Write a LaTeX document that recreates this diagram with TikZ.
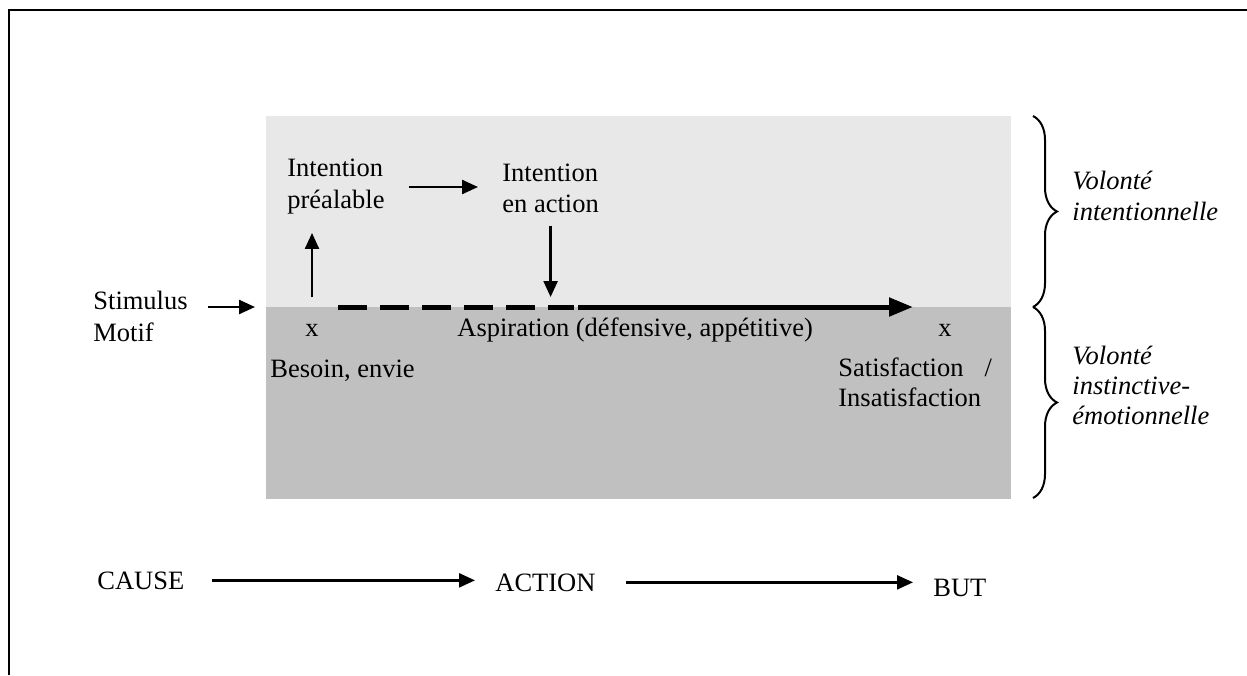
\documentclass[tikz,border=0pt]{standalone}
\usepackage{fontspec}
\setmainfont{Liberation Serif}
\usetikzlibrary{arrows.meta,decorations.pathreplacing}
\definecolor{upperfill}{RGB}{232,232,232}
\definecolor{lowerfill}{RGB}{192,192,192}

\begin{document}
\begin{tikzpicture}[
  x=0.5pt, y=-0.5pt,
  lbl/.style={inner sep=0pt, align=left, font=\fontsize{13.25}{15.5}\selectfont},
  arr/.style={line width=1.2pt, -{Triangle[length=8pt,width=7pt]}},
  bigarr/.style={line width=2.5pt, -{Triangle[length=12pt,width=9pt]}},
  dashline/.style={line width=2.5pt, dash pattern=on 14.5pt off 6.5pt},
  brc/.style={line width=1pt, decorate, decoration={brace, amplitude=12pt}}
]
  \useasboundingbox (0,0) rectangle (1247,675);

  % frame
  \draw[line width=1.2pt] (9,675) -- (9,10) -- (1247,10);

  % zones
  \fill[upperfill] (266,116) rectangle (1011,307);
  \fill[lowerfill] (266,307) rectangle (1011,499);

  % points on the aspiration line
  \coordinate (entry) at (255,307);
  \coordinate (d0) at (338,307);
  \coordinate (d1) at (574,307);
  \coordinate (d2) at (913,307);

  % labels
  \node[lbl, anchor=north west, font=\fontsize{13.25}{16}\selectfont] (stim) at (93,291) {Stimulus\\Motif};
  \node[lbl, anchor=north west, font=\fontsize{13.25}{16}\selectfont] (ip) at (287,159) {Intention\\préalable};
  \node[lbl, anchor=north west] (ia) at (502,164) {Intention\\en action};
  \node[lbl, anchor=base] (xl) at (312,336) {x};
  \node[lbl, anchor=base west] (asp) at (457,336) {Aspiration (défensive, appétitive)};
  \node[lbl, anchor=base] (xr) at (945,336) {x};
  \node[lbl, anchor=base west] (bes) at (270,377) {Besoin, envie};
  \node[lbl, anchor=north west, font=\fontsize{13.25}{15}\selectfont] (sat) at (838,357) {Satisfaction\hspace{10.5pt}/\\Insatisfaction};

  % wills
  \node[lbl, anchor=north west, font=\fontsize{13.25}{15.5}\selectfont\itshape] (vi) at (1072,171) {Volonté\\intentionnelle};
  \node[lbl, anchor=north west, font=\fontsize{13.25}{15}\selectfont\itshape] (ve) at (1072,346) {Volonté\\instinctive-\\émotionnelle};
  \draw[brc] (1033,116) -- (1033,307);
  \draw[brc] (1033,307) -- (1033,498);

  % chain
  \node[lbl, anchor=base west] (cause) at (97,589) {CAUSE};
  \node[lbl, anchor=base west] (action) at (495,591) {ACTION};
  \node[lbl, anchor=base west] (but) at (933,596) {BUT};

  % edges
  \draw[arr, shorten <=10pt] (stim.east |- entry) -- (entry);
  \draw[arr, shorten <=13pt, shorten >=9pt] (xl.north) -- (xl.north |- ip.south);
  \draw[arr, shorten <=12pt, shorten >=12pt] (ip.east) -- (ip.east -| ia.west);
  \draw[arr, shorten <=6pt, shorten >=5pt] (ia.south) -- (ia.south |- d1);
  \draw[dashline] (d0) -- (d1);
  \draw[bigarr, shorten <=2pt] (d1) -- (d2);
  \draw[arr, shorten <=13.5pt, shorten >=10pt] (cause.east) -- (cause.east -| action.west);
  \draw[arr, shorten <=15pt, shorten >=10pt] (action.east) -- (action.east -| but.west);

\end{tikzpicture}
\end{document}
